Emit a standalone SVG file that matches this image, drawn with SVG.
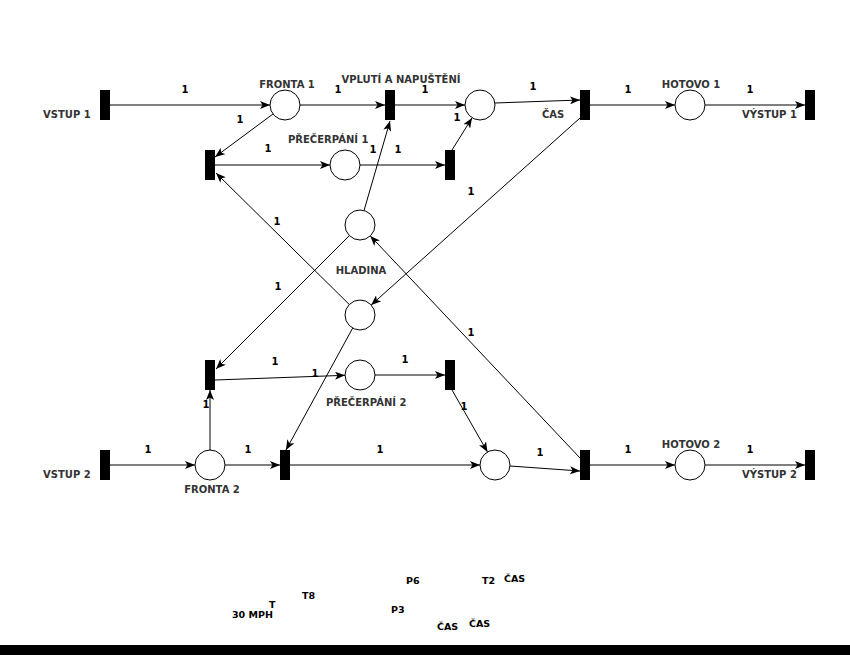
<svg xmlns="http://www.w3.org/2000/svg" width="850" height="655" viewBox="0 0 850 655">
<style>
text{font-family:"DejaVu Sans","Liberation Sans",sans-serif;font-weight:bold;font-size:10px}
.lbl{fill:#333}
.w{fill:#000;text-anchor:middle}
.st{fill:#000;font-size:9.5px}
.bar{fill:#000}
.pl{fill:#fff;stroke:#000;stroke-width:1}
.arc{stroke:#000;stroke-width:1;fill:none;marker-end:url(#ah)}
</style>
<defs>
<marker id="ah" markerUnits="userSpaceOnUse" markerWidth="10" markerHeight="8" refX="10" refY="4" orient="auto">
<path d="M0,0 L10,4 L0,8 L2.5,4 z" fill="#000"/>
</marker>
</defs>
<rect width="850" height="655" fill="#fff"/>
<g id="connectors">
<line class="arc" x1="110" y1="105" x2="270" y2="105"/>
<line class="arc" x1="300" y1="105" x2="385" y2="105"/>
<line class="arc" x1="395" y1="105" x2="465" y2="105"/>
<line class="arc" x1="495" y1="103" x2="580" y2="100"/>
<line class="arc" x1="590" y1="105" x2="675" y2="105"/>
<line class="arc" x1="705" y1="105" x2="805" y2="105"/>
<line class="arc" x1="273" y1="114" x2="215" y2="157"/>
<line class="arc" x1="215" y1="165" x2="330" y2="165"/>
<line class="arc" x1="360" y1="165" x2="445" y2="165"/>
<line class="arc" x1="452" y1="150" x2="472" y2="118"/>
<line class="arc" x1="364" y1="210.6" x2="390" y2="121"/>
<line class="arc" x1="349.3" y1="304.5" x2="216" y2="173"/>
<line class="arc" x1="580" y1="118" x2="371.2" y2="305"/>
<line class="arc" x1="349.4" y1="235.6" x2="216" y2="369"/>
<line class="arc" x1="580" y1="458" x2="370.3" y2="235.9"/>
<line class="arc" x1="352.7" y1="328.1" x2="286" y2="450"/>
<line class="arc" x1="215" y1="380" x2="345" y2="375.3"/>
<line class="arc" x1="375" y1="375" x2="445" y2="375"/>
<line class="arc" x1="452" y1="390" x2="487.5" y2="452"/>
<line class="arc" x1="210" y1="450" x2="210" y2="390"/>
<line class="arc" x1="110" y1="465" x2="195" y2="465"/>
<line class="arc" x1="225" y1="465" x2="280" y2="465"/>
<line class="arc" x1="290" y1="465" x2="480" y2="465"/>
<line class="arc" x1="510" y1="466" x2="580" y2="471"/>
<line class="arc" x1="590" y1="465" x2="675" y2="465"/>
<line class="arc" x1="705" y1="465" x2="805" y2="465"/>
<text class="w" x="185" y="93">1</text>
<text class="w" x="338" y="93">1</text>
<text class="w" x="425" y="93">1</text>
<text class="w" x="533" y="90">1</text>
<text class="w" x="628" y="93">1</text>
<text class="w" x="750" y="93">1</text>
<text class="w" x="240" y="123">1</text>
<text class="w" x="268" y="152">1</text>
<text class="w" x="373" y="153">1</text>
<text class="w" x="398" y="153">1</text>
<text class="w" x="457" y="121">1</text>
<text class="w" x="277" y="225">1</text>
<text class="w" x="471" y="195">1</text>
<text class="w" x="278" y="290">1</text>
<text class="w" x="471" y="336">1</text>
<text class="w" x="275" y="365">1</text>
<text class="w" x="315" y="377">1</text>
<text class="w" x="405" y="363">1</text>
<text class="w" x="206" y="408">1</text>
<text class="w" x="464" y="410">1</text>
<text class="w" x="148" y="453">1</text>
<text class="w" x="248" y="453">1</text>
<text class="w" x="380" y="453">1</text>
<text class="w" x="540" y="456">1</text>
<text class="w" x="628" y="453">1</text>
<text class="w" x="750" y="453">1</text>
</g>
<g id="vstup1"><rect class="bar" x="100" y="90" width="10" height="30"/><text class="lbl" x="43" y="118">VSTUP 1</text></g>
<g id="fronta1"><circle class="pl" cx="285" cy="105" r="15"/><text class="lbl" x="287" y="88" text-anchor="middle">FRONTA 1</text></g>
<g id="t_precerpani1"><rect class="bar" x="205" y="150" width="10" height="30"/></g>
<g id="vpluti"><rect class="bar" x="385" y="90" width="10" height="30"/><text class="lbl" x="401" y="83" text-anchor="middle">VPLUTÍ A NAPUŠTĚNÍ</text></g>
<g id="p_napusteni1"><circle class="pl" cx="480" cy="105" r="15"/></g>
<g id="precerpani1"><circle class="pl" cx="345" cy="165" r="15"/><text class="lbl" x="288" y="143">PŘEČERPÁNÍ 1</text></g>
<g id="t_precerpani1b"><rect class="bar" x="445" y="150" width="10" height="30"/></g>
<g id="cas1"><rect class="bar" x="580" y="90" width="10" height="30"/><text class="lbl" x="542" y="118">ČAS</text></g>
<g id="hotovo1"><circle class="pl" cx="690" cy="105" r="15"/><text class="lbl" x="691" y="88" text-anchor="middle">HOTOVO 1</text></g>
<g id="vystup1"><rect class="bar" x="805" y="90" width="10" height="30"/><text class="lbl" x="742" y="118">VÝSTUP 1</text></g>
<g id="hladina"><circle class="pl" cx="360" cy="225" r="15"/><circle class="pl" cx="360" cy="315" r="15"/><text class="lbl" x="361" y="274" text-anchor="middle">HLADINA</text></g>
<g id="t_precerpani2"><rect class="bar" x="205" y="360" width="10" height="30"/></g>
<g id="precerpani2"><circle class="pl" cx="360" cy="375" r="15"/><text class="lbl" x="326" y="406">PŘEČERPÁNÍ 2</text></g>
<g id="t_precerpani2b"><rect class="bar" x="445" y="360" width="10" height="30"/></g>
<g id="vstup2"><rect class="bar" x="100" y="450" width="10" height="30"/><text class="lbl" x="43" y="478">VSTUP 2</text></g>
<g id="fronta2"><circle class="pl" cx="210" cy="465" r="15"/><text class="lbl" x="212" y="493" text-anchor="middle">FRONTA 2</text></g>
<g id="vpluti2"><rect class="bar" x="280" y="450" width="10" height="30"/></g>
<g id="p_napusteni2"><circle class="pl" cx="495" cy="465" r="15"/></g>
<g id="cas2"><rect class="bar" x="580" y="450" width="10" height="30"/></g>
<g id="hotovo2"><circle class="pl" cx="690" cy="465" r="15"/><text class="lbl" x="691" y="448" text-anchor="middle">HOTOVO 2</text></g>
<g id="vystup2"><rect class="bar" x="805" y="450" width="10" height="30"/><text class="lbl" x="742" y="478">VÝSTUP 2</text></g>
<g id="stray">
<text class="st" x="406" y="584">P6</text>
<text class="st" x="482" y="584">T2</text>
<text class="st" x="504" y="582">ČAS</text>
<text class="st" x="302" y="599">T8</text>
<text class="st" x="269" y="608">T</text>
<text class="st" x="232" y="618">30 MPH</text>
<text class="st" x="391" y="613">P3</text>
<text class="st" x="437" y="630">ČAS</text>
<text class="st" x="469" y="627">ČAS</text>
</g>
<rect x="0" y="645" width="850" height="10" fill="#000"/>
</svg>
